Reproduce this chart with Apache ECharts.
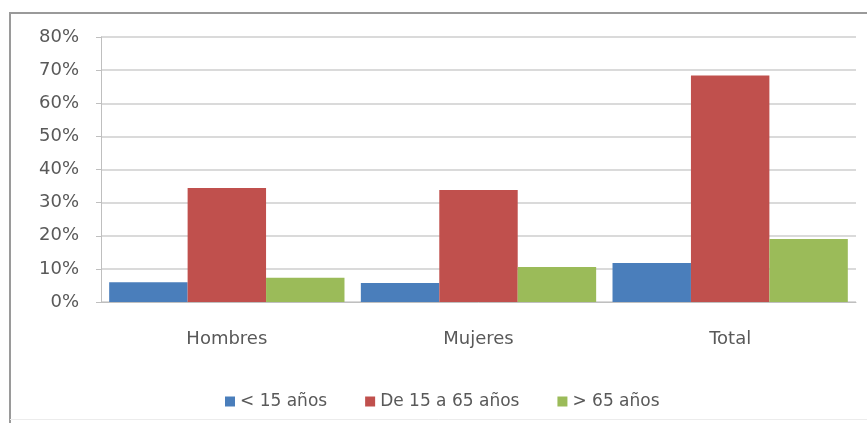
<!DOCTYPE html>
<html>
<head>
<meta charset="utf-8">
<script src="https://cdn.jsdelivr.net/npm/echarts@6/dist/echarts.min.js"></script>
<style>
html,body{margin:0;padding:0;background:#fff;}
#chart{width:867px;height:423px;}
</style>
</head>
<body>
<div id="chart"></div>
<script>
const categories = ['Hombres', 'Mujeres', 'Total'];
const seriesNames = ['< 15 años', 'De 15 a 65 años', '> 65 años'];
const menor15 = [6.0, 5.7, 11.8];
const de15a65 = [34.4, 33.8, 68.4];
const mayor65 = [7.3, 10.6, 19.0];
const yTicks = [0, 10, 20, 30, 40, 50, 60, 70, 80];

const colors = ['#4A7EBB', '#C0504D', '#9BBB59'];
const font = 'DejaVu Sans';

const chart = echarts.init(document.getElementById('chart'));
const dataSets = [menor15, de15a65, mayor65];
chart.setOption({
  animation: false,
  backgroundColor: '#fff',
  grid: { left: 101, right: 11, top: 37, bottom: 121, containLabel: false },
  legend: {
    data: seriesNames,
    left: 220,
    top: 388,
    itemWidth: 10,
    itemHeight: 10,
    itemGap: 38,
    icon: 'rect',
    textStyle: { fontFamily: font, fontSize: 17, color: '#595959', padding: [0, 0, 0, 0] }
  },
  xAxis: {
    type: 'category',
    data: categories,
    axisLine: { show: true, lineStyle: { color: '#bfbfbf', width: 1 } },
    axisTick: { show: false },
    axisLabel: { fontFamily: font, fontSize: 18, color: '#595959', margin: 28 }
  },
  yAxis: {
    type: 'value',
    min: yTicks[0],
    max: yTicks[yTicks.length - 1],
    interval: 10,
    axisLine: { show: true, lineStyle: { color: '#bfbfbf', width: 1 } },
    axisTick: { show: true, length: 5, lineStyle: { color: '#bfbfbf' } },
    axisLabel: { fontFamily: font, fontSize: 18, color: '#595959', margin: 22, formatter: v => v + '%' },
    splitLine: { show: true, lineStyle: { color: '#dadada', width: 2 } }
  },
  series: dataSets.map((d, i) => ({
    name: seriesNames[i],
    type: 'bar',
    data: d,
    barGap: '0%',
    barCategoryGap: '6.5%',
    itemStyle: { color: colors[i] }
  })),
  graphic: [
    { type: 'line', shape: { x1: 9, y1: 13, x2: 867, y2: 13 }, style: { stroke: '#9a9a9a', lineWidth: 2 } },
    { type: 'line', shape: { x1: 10, y1: 12, x2: 10, y2: 423 }, style: { stroke: '#9a9a9a', lineWidth: 2 } },
    { type: 'line', shape: { x1: 10, y1: 419.5, x2: 867, y2: 419.5 }, style: { stroke: '#ececec', lineWidth: 1 } }
  ]
});
</script>
</body>
</html>
